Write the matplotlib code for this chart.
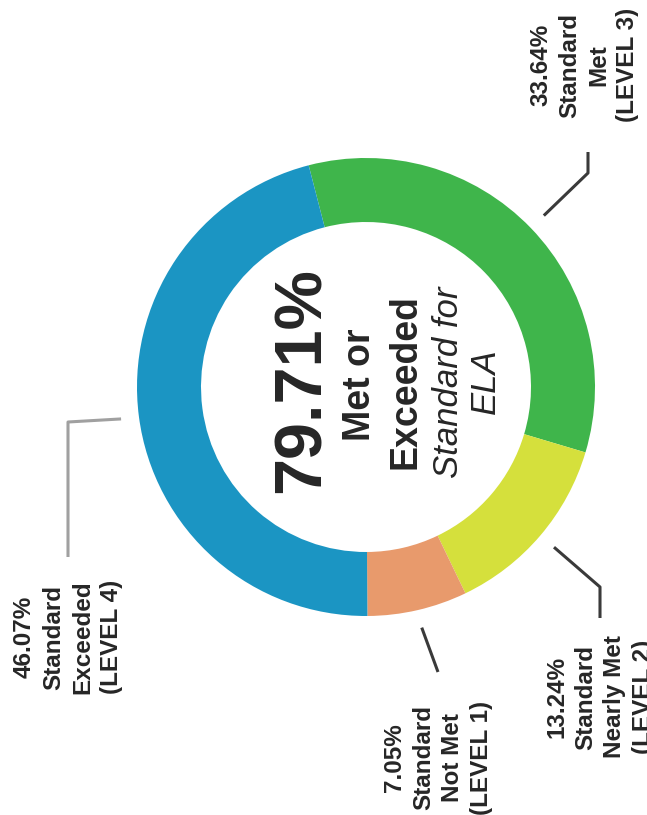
"""
ELA 成绩分布环形图（扫描件为旋转 90° 的版式）
"""

import numpy as np
import matplotlib.pyplot as plt


# ==================== 数据 ====================

SHARES = [33.64, 13.24, 7.05, 46.07]          # 百分比，按顺时针顺序
NAMES = ["Standard\nMet", "Standard\nNearly Met", "Standard\nNot Met", "Standard\nExceeded"]
LEVELS = ["LEVEL 3", "LEVEL 2", "LEVEL 1", "LEVEL 4"]
MET_OR_EXCEEDED = 79.71
SUBJECT = "ELA"

# ==================== 版式参数（像素坐标，y 向下） ====================

W, H = 647, 815
CENTER = (366, 387)
RADIUS = 229
RING_WIDTH = 64
START_ANGLE = 104.5                           # 屏幕角度，顺时针排列

COLORS = ["#3fb54b", "#d5e03c", "#e89a6c", "#1b95c3"]
LEADER_R = 247
LABEL_POS = [(584, 65), (600, 697), (438, 758), (68, 637)]
LEADER_PATH = [[(588, 173), (588, 152)],
               [(600, 587), (600, 618)],
               [(438, 672)],
               [(68, 422), (68, 557)]]
LEADER_COLOR = ["#3a3a3a", "#3a3a3a", "#3a3a3a", "#a0a0a0"]

FONT = ["Liberation Sans", "DejaVu Sans"]
TEXT_COLOR = "#262626"


def main():
    plt.rcParams["font.family"] = FONT

    fig = plt.figure(figsize=(W / 100, H / 100), dpi=100)
    ax = fig.add_axes([0, 0, 1, 1])

    # y 轴反向后，数据中的逆时针在屏幕上是顺时针
    wedges, _ = ax.pie(
        SHARES, colors=COLORS, center=CENTER, radius=RADIUS,
        startangle=-START_ANGLE, counterclock=True,
        wedgeprops=dict(width=RING_WIDTH, linewidth=0),
    )
    ax.set_xlim(0, W)
    ax.set_ylim(H, 0)
    ax.set_aspect("auto")
    ax.axis("off")

    # --- 引线与标签 ---
    for w, share, name, level, pos, path, lc in zip(
            wedges, SHARES, NAMES, LEVELS, LABEL_POS, LEADER_PATH, LEADER_COLOR):
        mid = np.deg2rad((w.theta1 + w.theta2) / 2)
        x0 = CENTER[0] + LEADER_R * np.cos(mid)
        y0 = CENTER[1] + LEADER_R * np.sin(mid)
        xs = [x0] + [p[0] for p in path]
        ys = [y0] + [p[1] for p in path]
        ax.plot(xs, ys, color=lc, linewidth=2.2, solid_capstyle="butt")
        ax.text(pos[0], pos[1], f"{share:.2f}%\n{name}\n({level})",
                rotation=90, ha="center", va="center", multialignment="center",
                fontsize=17.5, fontweight="bold", color=TEXT_COLOR, linespacing=1.33)

    # --- 中心文字 ---
    ax.text(303, 380, f"{MET_OR_EXCEEDED:.2f}%", rotation=90, ha="center", va="center",
            fontsize=48, fontweight="bold", color=TEXT_COLOR)
    ax.text(360, 385, "Met or", rotation=90, ha="center", va="center",
            fontsize=27, fontweight="bold", color=TEXT_COLOR)
    ax.text(406, 382, "Exceeded", rotation=90, ha="center", va="center",
            fontsize=27, fontweight="bold", color=TEXT_COLOR)
    ax.text(449, 382, "Standard for", rotation=90, ha="center", va="center",
            fontsize=25, fontstyle="italic", color=TEXT_COLOR)
    ax.text(485, 381, SUBJECT, rotation=90, ha="center", va="center",
            fontsize=25, fontstyle="italic", color=TEXT_COLOR)

    fig.savefig("out.png", dpi=100, facecolor="white")


if __name__ == "__main__":
    main()
